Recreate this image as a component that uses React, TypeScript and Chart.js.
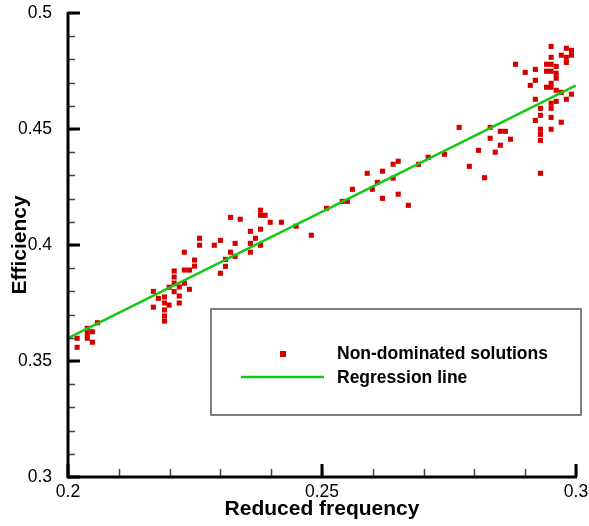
import React, { useEffect, useRef } from "react";
import { Chart, registerables } from "chart.js";

Chart.register(...registerables);

const solutionX = [
  0.2018, 0.2018, 0.2038, 0.2038, 0.2038, 0.2048, 0.2048, 0.2058,
  0.2168, 0.2168, 0.2178, 0.2190, 0.2190, 0.2190, 0.2190, 0.2190,
  0.2199, 0.2199, 0.2209, 0.2209, 0.2209, 0.2209, 0.2219, 0.2219, 0.2219,
  0.2229, 0.2229, 0.2229, 0.2239, 0.2239, 0.2249, 0.2249, 0.2259, 0.2259,
  0.2288, 0.2300, 0.2300, 0.2310, 0.2310, 0.2320, 0.2320, 0.2329, 0.2329,
  0.2339, 0.2359, 0.2359, 0.2359, 0.2369, 0.2379, 0.2379, 0.2388, 0.2379,
  0.2379, 0.2398, 0.2420, 0.2449, 0.2479,
  0.2509, 0.2540, 0.2550, 0.2560, 0.2589, 0.2599, 0.2609, 0.2619, 0.2619,
  0.2640, 0.2640, 0.2650, 0.2650, 0.2670, 0.2690, 0.2709, 0.2741, 0.2770,
  0.2790, 0.2808, 0.2820, 0.2841, 0.2831, 0.2831, 0.2851, 0.2851, 0.2861,
  0.2871,
  0.2881, 0.2900, 0.2910, 0.2920, 0.2920, 0.2920, 0.2920, 0.2930, 0.2930,
  0.2930, 0.2930, 0.2930, 0.2930, 0.2942, 0.2951, 0.2942, 0.2951, 0.2942,
  0.2951, 0.2951, 0.2951, 0.2951, 0.2951, 0.2951, 0.2951, 0.2951, 0.2961,
  0.2961, 0.2961, 0.2961, 0.2961, 0.2971, 0.2971, 0.2971, 0.2981, 0.2981,
  0.2981, 0.2981, 0.2991, 0.2991, 0.2991,
];

const solutionY = [
  0.3598, 0.3559, 0.3641, 0.3619, 0.3598, 0.3626, 0.3581, 0.3665,
  0.3800, 0.3732, 0.3770, 0.3776, 0.3750, 0.3720, 0.3694, 0.3672,
  0.3818, 0.3741, 0.3888, 0.3862, 0.3836, 0.3799, 0.3819, 0.3780, 0.3750,
  0.3969, 0.3892, 0.3835, 0.3892, 0.3809, 0.3935, 0.3909, 0.4029, 0.3999,
  0.3999, 0.4020, 0.3878, 0.3938, 0.3908, 0.4119, 0.3969, 0.4007, 0.3951,
  0.4111, 0.4059, 0.4007, 0.3969, 0.4029, 0.4150, 0.4128, 0.4128, 0.4068,
  0.3999, 0.4098, 0.4098, 0.4081, 0.4042,
  0.4158, 0.4188, 0.4188, 0.4240, 0.4309, 0.4240, 0.4270, 0.4318, 0.4201,
  0.4348, 0.4288, 0.4361, 0.4219, 0.4171, 0.4348, 0.4378, 0.4391, 0.4507,
  0.4339, 0.4408, 0.4290, 0.4400, 0.4507, 0.4460, 0.4430, 0.4490, 0.4490,
  0.4456,
  0.4779, 0.4744, 0.4688, 0.4757, 0.4710, 0.4628, 0.4537, 0.4589, 0.4559,
  0.4499, 0.4477, 0.4451, 0.4309, 0.4779, 0.4779, 0.4749, 0.4749, 0.4680,
  0.4680, 0.4856, 0.4809, 0.4697, 0.4611, 0.4589, 0.4550, 0.4499, 0.4770,
  0.4740, 0.4719, 0.4667, 0.4619, 0.4818, 0.4658, 0.4529, 0.4848, 0.4809,
  0.4787, 0.4628, 0.4839, 0.4818, 0.4650,
];

const regressionX = [0.2, 0.3];
const regressionY = [0.3599, 0.4688];

const xTickValues = [0.2, 0.25, 0.3];
const yTickValues = [0.3, 0.35, 0.4, 0.45, 0.5];
const xMinorStep = 0.01;
const yMinorStep = 0.01;

const legendLabels = ["Non-dominated solutions", "Regression line"];

const RED = "#d40000";
const GREEN = "#14c814";
const FONT = "'Liberation Sans', Arial, sans-serif";

const axesPlugin = {
  id: "inwardAxes",
  afterDatasetsDraw(chart: any) {
    const { ctx, chartArea, scales } = chart;
    const xs = scales.x;
    const ys = scales.y;
    const { left, right, top, bottom } = chartArea;
    ctx.save();
    // minor ticks
    ctx.strokeStyle = "#444";
    ctx.lineWidth = 1.5;
    ctx.beginPath();
    for (let v = xs.min; v <= xs.max + 1e-9; v += xMinorStep) {
      const px = Math.round(xs.getPixelForValue(v)) + 0.5;
      ctx.moveTo(px, bottom);
      ctx.lineTo(px, bottom - 8);
    }
    for (let v = ys.min; v <= ys.max + 1e-9; v += yMinorStep) {
      const py = Math.round(ys.getPixelForValue(v)) + 0.5;
      ctx.moveTo(left, py);
      ctx.lineTo(left + 7, py);
    }
    ctx.stroke();
    // major ticks
    ctx.strokeStyle = "#000";
    ctx.lineWidth = 3;
    ctx.beginPath();
    xTickValues.forEach((v) => {
      const px = Math.round(xs.getPixelForValue(v));
      ctx.moveTo(px, bottom);
      ctx.lineTo(px, bottom - 13);
    });
    yTickValues.forEach((v) => {
      const py = Math.round(ys.getPixelForValue(v));
      ctx.moveTo(left, py);
      ctx.lineTo(left + 12, py);
    });
    ctx.stroke();
    // axis lines
    ctx.lineWidth = 3;
    ctx.beginPath();
    ctx.moveTo(left, top - 1);
    ctx.lineTo(left, bottom);
    ctx.lineTo(right + 1, bottom);
    ctx.stroke();

    // legend box
    const bx = 211, by = 309, bw = 370, bh = 106;
    ctx.fillStyle = "#fff";
    ctx.fillRect(bx, by, bw, bh);
    ctx.strokeStyle = "#555";
    ctx.lineWidth = 1.5;
    ctx.strokeRect(bx, by, bw, bh);
    // marker
    ctx.fillStyle = RED;
    ctx.fillRect(280, 351, 6, 6);
    // line
    ctx.strokeStyle = GREEN;
    ctx.lineWidth = 2.5;
    ctx.beginPath();
    ctx.moveTo(241, 377);
    ctx.lineTo(324, 377);
    ctx.stroke();
    ctx.fillStyle = "#000";
    ctx.font = `bold 17.5px ${FONT}`;
    ctx.textAlign = "left";
    ctx.textBaseline = "middle";
    ctx.fillText(legendLabels[0], 337, 354);
    ctx.fillText(legendLabels[1], 337, 378);
    ctx.restore();
  },
};

export default function App() {
  const canvasRef = useRef<HTMLCanvasElement | null>(null);

  useEffect(() => {
    const canvas = canvasRef.current;
    if (!canvas) return;
    const chart = new Chart(canvas, {
      type: "scatter",
      data: {
        datasets: [
          {
            label: legendLabels[1],
            data: regressionX.map((x, i) => ({ x, y: regressionY[i] })),
            showLine: true,
            borderColor: GREEN,
            borderWidth: 2.5,
            pointRadius: 0,
            order: 0,
          },
          {
            label: legendLabels[0],
            data: solutionX.map((x, i) => ({ x, y: solutionY[i] })),
            pointStyle: "rect",
            pointRadius: 3.6,
            pointBorderWidth: 0,
            backgroundColor: RED,
            borderColor: RED,
            order: 1,
          },
        ],
      },
      options: {
        animation: false,
        responsive: false,
        maintainAspectRatio: false,
        devicePixelRatio: 1,
        layout: { padding: { top: 13, right: 13, left: 0, bottom: 0 } },
        plugins: {
          legend: { display: false },
          tooltip: { enabled: false },
        },
        scales: {
          x: {
            type: "linear",
            min: 0.2,
            max: 0.3,
            afterBuildTicks: (s: any) => {
              s.ticks = xTickValues.map((v) => ({ value: v }));
            },
            afterFit: (s: any) => {
              s.height = 49;
              s.paddingLeft = 0;
              s.paddingRight = 0;
            },
            grid: { display: false },
            border: { display: false },
            ticks: {
              padding: -3,
              color: "#000",
              font: { family: FONT, size: 17.5 },
              maxRotation: 0,
              callback: (v: any) => String(v),
            },
            title: {
              display: true,
              text: "Reduced frequency",
              color: "#000",
              font: { family: FONT, size: 21, weight: "bold" },
              padding: { top: 0, bottom: 4 },
            },
          },
          y: {
            type: "linear",
            min: 0.3,
            max: 0.5,
            afterBuildTicks: (s: any) => {
              s.ticks = yTickValues.map((v) => ({ value: v }));
            },
            afterFit: (s: any) => {
              s.width = 68;
              s.paddingTop = 0;
              s.paddingBottom = 0;
            },
            grid: { display: false },
            border: { display: false },
            ticks: {
              padding: 8,
              color: "#000",
              font: { family: FONT, size: 17.5 },
              callback: (v: any) => String(v),
            },
            title: {
              display: true,
              text: "Efficiency",
              color: "#000",
              font: { family: FONT, size: 21, weight: "bold" },
              padding: { top: 8, bottom: 0 },
            },
          },
        },
      },
      plugins: [axesPlugin],
    });
    return () => chart.destroy();
  }, []);

  return (
    <div style={{ position: "fixed", left: 0, top: 0, width: 589, height: 526, background: "#fff" }}>
      <canvas ref={canvasRef} width={589} height={526} style={{ width: 589, height: 526, display: "block" }} />
    </div>
  );
}
